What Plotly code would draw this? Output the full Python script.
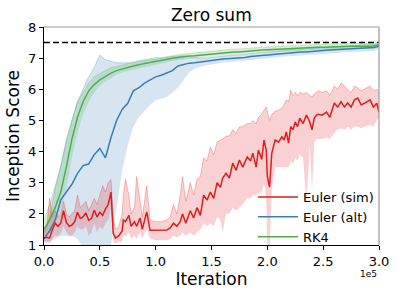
import plotly.graph_objects as go

# ---------------- data ----------------
# iterations (raw) for RK4 / Euler (alt)
x_gb = [i * 5000 for i in range(61)]

rk4_mean = [1.5, 1.8, 2.2, 2.7, 3.5, 4.4, 5.1, 5.6, 5.95, 6.15, 6.3, 6.42, 6.52, 6.6, 6.66, 6.7,
            6.75, 6.8, 6.83, 6.86, 6.9, 6.93, 6.96, 7.0, 7.02, 7.05, 7.07, 7.08, 7.1, 7.12, 7.14,
            7.15, 7.17, 7.18, 7.2, 7.2, 7.22, 7.24, 7.25, 7.26, 7.27, 7.28, 7.3, 7.3, 7.31, 7.32,
            7.33, 7.34, 7.34, 7.35, 7.35, 7.36, 7.36, 7.37, 7.37, 7.38, 7.38, 7.37, 7.38, 7.39, 7.42]
rk4_lo = [1.3, 1.4, 1.7, 2.1, 2.8, 3.8, 4.6, 5.2, 5.6, 5.9, 6.1, 6.25, 6.35, 6.47, 6.54, 6.58,
          6.63, 6.68, 6.71, 6.74, 6.78, 6.84, 6.87, 6.91, 6.93, 6.96, 6.98, 6.99, 7.01, 7.03, 7.05,
          7.06, 7.08, 7.09, 7.11, 7.11, 7.13, 7.15, 7.16, 7.17, 7.18, 7.19, 7.21, 7.21, 7.22, 7.23,
          7.24, 7.25, 7.25, 7.26, 7.26, 7.27, 7.27, 7.28, 7.28, 7.29, 7.29, 7.28, 7.29, 7.3, 7.33]
rk4_hi = [1.8, 2.3, 2.9, 3.5, 4.4, 5.0, 5.6, 5.9, 6.2, 6.4, 6.5, 6.6, 6.7, 6.73, 6.78, 6.82,
          6.87, 6.92, 6.95, 6.98, 7.02, 7.02, 7.05, 7.09, 7.11, 7.14, 7.16, 7.17, 7.19, 7.21, 7.23,
          7.24, 7.26, 7.27, 7.29, 7.29, 7.31, 7.33, 7.34, 7.35, 7.36, 7.37, 7.39, 7.39, 7.4, 7.41,
          7.42, 7.43, 7.43, 7.44, 7.44, 7.45, 7.45, 7.46, 7.46, 7.47, 7.47, 7.46, 7.47, 7.48, 7.51]

alt_mean = [1.2, 1.45, 1.8, 2.45, 2.7, 2.95, 3.3, 3.55, 3.6, 3.9, 4.1, 3.8, 4.45, 5.0, 5.35, 5.55,
            5.95, 6.05, 6.2, 6.3, 6.4, 6.45, 6.52, 6.6, 6.75, 6.8, 6.84, 6.85, 6.88, 6.9, 6.92,
            6.95, 6.97, 6.98, 7.0, 7.0, 7.02, 7.05, 7.06, 7.08, 7.1, 7.12, 7.14, 7.16, 7.17, 7.18,
            7.2, 7.2, 7.22, 7.23, 7.25, 7.26, 7.27, 7.28, 7.3, 7.3, 7.31, 7.32, 7.33, 7.34, 7.38]
alt_lo = [1.1, 1.1, 1.2, 1.3, 1.3, 1.3, 1.2, 0.9, 0.7, 0.6, 0.6, 0.7, 1.0, 2.2, 3.4, 4.2,
          4.8, 5.1, 5.3, 5.5, 5.65, 5.7, 5.75, 5.9, 6.05, 6.3, 6.55, 6.65, 6.72, 6.76, 6.8,
          6.84, 6.86, 6.87, 6.89, 6.89, 6.91, 6.94, 6.95, 6.97, 6.99, 7.01, 7.03, 7.05, 7.06, 7.07,
          7.09, 7.09, 7.11, 7.12, 7.14, 7.15, 7.16, 7.17, 7.19, 7.19, 7.2, 7.21, 7.22, 7.23, 7.28]
alt_hi = [1.4, 1.9, 2.8, 3.6, 4.3, 5.0, 5.6, 6.0, 6.4, 6.7, 7.1, 6.95, 6.9, 6.85, 6.85, 6.85,
          6.85, 6.9, 6.92, 6.95, 6.97, 7.0, 7.02, 7.05, 7.07, 7.08, 7.05, 7.02, 7.0, 7.0, 7.02,
          7.05, 7.07, 7.08, 7.1, 7.1, 7.12, 7.15, 7.16, 7.18, 7.2, 7.22, 7.24, 7.26, 7.27, 7.28,
          7.3, 7.3, 7.32, 7.33, 7.35, 7.36, 7.37, 7.38, 7.4, 7.4, 7.41, 7.42, 7.43, 7.44, 7.46]

# Euler (sim): iterations in units of 1e5
x_sim_1e5 = [0.0, 0.025, 0.05, 0.075, 0.1, 0.125, 0.15, 0.175, 0.2, 0.225, 0.25, 0.275, 0.3,
             0.325, 0.35, 0.375, 0.4, 0.425, 0.45, 0.475, 0.5, 0.525, 0.55, 0.575, 0.6, 0.62,
             0.64, 0.67, 0.7, 0.71, 0.73, 0.76, 0.78, 0.81, 0.83, 0.86, 0.88, 0.92, 0.95, 1.0,
             1.05, 1.1, 1.13, 1.16, 1.19, 1.22, 1.24, 1.27, 1.31, 1.34, 1.37, 1.4, 1.43, 1.46,
             1.49, 1.52, 1.55, 1.58, 1.6, 1.63, 1.66, 1.69, 1.72, 1.75, 1.78, 1.82, 1.85, 1.87,
             1.9, 1.92, 1.95, 1.97, 1.99, 2.0, 2.02, 2.04, 2.07, 2.1, 2.13, 2.15, 2.17, 2.19,
             2.21, 2.23, 2.25, 2.27, 2.29, 2.32, 2.35, 2.38, 2.4, 2.42, 2.44, 2.46, 2.49, 2.53,
             2.56, 2.6, 2.63, 2.66, 2.69, 2.72, 2.75, 2.78, 2.81, 2.84, 2.87, 2.92, 2.95, 2.98, 3.0]
sim_mean = [1.22, 1.25, 1.22, 1.5, 1.7, 1.6, 1.7, 2.1, 1.73, 1.6, 1.64, 1.75, 2.05, 1.85, 1.9,
            2.03, 1.8, 1.85, 2.12, 1.9, 2.05, 1.95, 2.15, 2.3, 2.7, 1.38, 1.22, 1.3, 1.45, 1.8,
            1.75, 1.95, 1.6, 1.75, 1.6, 1.87, 1.5, 2.06, 1.47, 1.47, 1.47, 1.48, 1.55, 1.7, 1.6,
            1.75, 2.0, 1.7, 2.1, 1.87, 2.2, 1.95, 2.6, 2.44, 2.7, 2.5, 3.0, 2.85, 3.15, 3.3, 3.15,
            3.63, 3.4, 3.73, 3.5, 3.83, 3.7, 3.95, 3.5, 4.05, 3.75, 4.37, 4.05, 3.2, 2.86, 3.95,
            4.37, 4.3, 4.47, 4.37, 4.63, 4.27, 4.8, 4.7, 4.95, 4.8, 5.07, 4.9, 5.17, 4.95, 4.7,
            5.07, 5.17, 5.2, 5.17, 5.27, 5.1, 5.56, 5.43, 5.6, 5.43, 5.56, 5.43, 5.66, 5.72, 5.5,
            5.55, 5.66, 5.43, 5.55, 5.27]
sim_lo = [1.1, 1.1, 1.05, 1.2, 1.3, 1.3, 1.35, 1.6, 1.4, 1.3, 1.3, 1.4, 1.6, 1.5, 1.5, 1.6,
          1.3, 1.4, 1.7, 1.4, 1.6, 1.5, 1.7, 1.8, 2.2, 1.1, 1.05, 1.1, 1.1, 1.3, 1.3, 1.4, 1.2,
          1.3, 1.2, 1.4, 1.2, 1.5, 1.2, 1.15, 1.15, 1.15, 1.2, 1.3, 1.25, 1.3, 1.4, 1.3, 1.4,
          1.3, 1.4, 1.5, 1.7, 1.6, 1.7, 1.6, 1.9, 1.8, 1.4, 2.0, 2.0, 2.2, 2.1, 2.2, 2.3, 2.5,
          2.5, 2.6, 2.6, 2.67, 2.7, 3.0, 2.5, 0.9, 0.8, 2.8, 3.5, 3.5, 3.5, 3.5, 3.5, 3.5, 3.7,
          3.6, 3.8, 3.7, 3.9, 3.8, 2.35, 4.2, 2.77, 4.3, 4.4, 4.4, 4.4, 4.45, 4.4, 4.6, 4.7,
          4.75, 4.7, 4.8, 4.7, 4.8, 4.8, 4.75, 4.8, 4.85, 4.8, 5.0, 5.1]
sim_hi = [1.4, 1.6, 2.5, 1.9, 2.1, 1.9, 2.0, 2.4, 2.0, 1.9, 2.0, 2.1, 2.6, 2.2, 2.3, 2.4, 2.1,
          2.3, 2.5, 2.3, 2.6, 2.9, 2.7, 3.0, 3.1, 1.9, 1.5, 1.6, 2.0, 2.6, 3.1, 2.6, 2.0, 2.2,
          3.2, 2.4, 1.9, 2.9, 1.8, 1.75, 1.75, 1.8, 1.9, 2.3, 2.0, 2.6, 3.2, 2.4, 3.0, 2.6, 3.1,
          3.2, 3.8, 3.7, 4.15, 3.9, 4.3, 4.37, 4.4, 4.5, 4.5, 4.7, 4.6, 4.8, 4.8, 4.9, 4.9, 5.0,
          4.9, 5.1, 5.2, 5.33, 5.43, 5.3, 5.0, 5.2, 5.3, 5.33, 5.4, 5.5, 5.66, 5.6, 5.97, 5.8,
          5.9, 5.8, 5.9, 5.85, 5.9, 5.8, 5.75, 5.85, 5.9, 5.95, 5.9, 5.95, 5.8, 6.1, 6.0, 6.2,
          6.1, 6.0, 5.9, 6.1, 6.05, 5.95, 6.0, 6.1, 5.95, 6.0, 5.9]
x_sim = [v * 1e5 for v in x_sim_1e5]

reference_score = 7.5
x_tick_vals = [0, 50000, 100000, 150000, 200000, 250000, 300000]
x_tick_text = ["0.0", "0.5", "1.0", "1.5", "2.0", "2.5", "3.0"]
y_tick_vals = [1, 2, 3, 4, 5, 6, 7, 8]

series = [
    ("Euler (sim)", x_sim, sim_mean, sim_lo, sim_hi, "#e41a1c", "rgba(228,26,28,0.2)"),
    ("Euler (alt)", x_gb, alt_mean, alt_lo, alt_hi, "#377eb8", "rgba(55,126,184,0.2)"),
    ("RK4", x_gb, rk4_mean, rk4_lo, rk4_hi, "#4daf4a", "rgba(77,175,74,0.2)"),
]

fig = go.Figure()

# reference dashed line
fig.add_trace(go.Scatter(x=[0, 300000], y=[reference_score, reference_score], mode="lines",
                         line=dict(color="black", width=1.5, dash="6px,3px"),
                         showlegend=False, hoverinfo="skip"))

# bands first
for name, xs, m, lo, hi, col, fcol in [series[1], series[2], series[0]]:
    fig.add_trace(go.Scatter(x=xs, y=lo, mode="lines", line=dict(width=0),
                             showlegend=False, hoverinfo="skip"))
    fig.add_trace(go.Scatter(x=xs, y=hi, mode="lines", fill="tonexty", fillcolor=fcol,
                             line=dict(width=0.8, color=fcol.replace("0.2)", "0.35)")),
                             showlegend=False, hoverinfo="skip"))

for name, xs, m, lo, hi, col, fcol in [series[1], series[2], series[0]]:
    fig.add_trace(go.Scatter(x=xs, y=m, mode="lines", name=name,
                             line=dict(color=col, width=1.5), showlegend=False))

# legend entries in order
for name, xs, m, lo, hi, col, fcol in series:
    fig.add_trace(go.Scatter(x=[None], y=[None], mode="lines", name=name,
                             line=dict(color=col, width=1.5)))

font = "DejaVu Sans"
fig.update_layout(
    width=398, height=294,
    margin=dict(l=44, r=19, t=27, b=49),
    paper_bgcolor="white", plot_bgcolor="white",
    font=dict(family=font, color="black", size=13),
    title=dict(text="Zero sum", x=0.531, xanchor="center", y=0.95, yanchor="middle",
               font=dict(size=17, family=font)),
    showlegend=True,
    legend=dict(x=1.0, y=-0.032, xanchor="right", yanchor="bottom", traceorder="normal",
                bgcolor="rgba(0,0,0,0)", font=dict(size=13, family=font),
                tracegroupgap=0, itemwidth=40),
    xaxis=dict(range=[0, 300000], tickvals=x_tick_vals, ticktext=x_tick_text,
               showgrid=False, zeroline=False, showline=True, linecolor="black", linewidth=1,
               ticks="outside", ticklen=4, tickcolor="black", automargin=False,
               title=dict(text="Iteration", font=dict(size=17, family=font), standoff=2),
               tickfont=dict(size=13)),
    yaxis=dict(range=[1, 8], tickvals=y_tick_vals,
               showgrid=False, zeroline=False, showline=True, linecolor="black", linewidth=1,
               ticks="outside", ticklen=4, tickcolor="black", automargin=False,
               title=dict(text="Inception Score", font=dict(size=17, family=font), standoff=4),
               tickfont=dict(size=13)),
)

# gray top and right spines
fig.add_shape(type="line", xref="paper", yref="paper", x0=0, x1=1, y0=1, y1=1,
              line=dict(color="#999999", width=1.2))
fig.add_shape(type="line", xref="paper", yref="paper", x0=1, x1=1, y0=0, y1=1,
              line=dict(color="#999999", width=1.2))

fig.add_annotation(text="1e5", xref="paper", yref="paper", x=1.0, y=-0.1, xanchor="right",
                   yanchor="top", showarrow=False, font=dict(size=9, family=font))

fig.write_html("out.html", config={"displayModeBar": False},
               post_script="document.body.style.margin='0px';document.body.style.overflow='hidden';")
